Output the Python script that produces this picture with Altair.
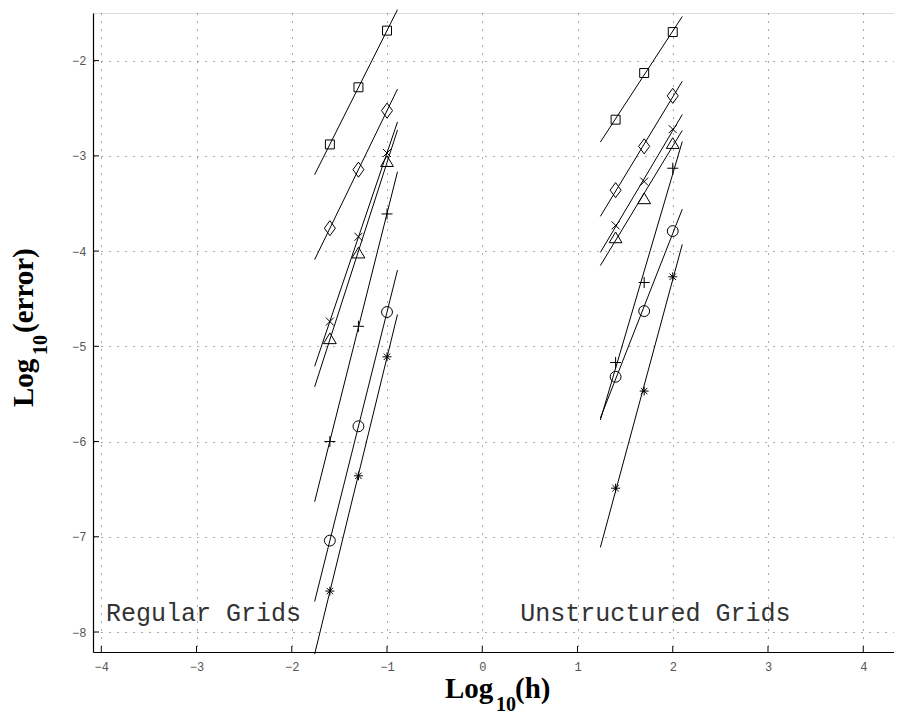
import altair as alt
import pandas as pd

# ---------------- data ----------------
series = ["square", "diamond", "x", "triangle", "plus", "circle", "asterisk"]

x_regular = [-1.6, -1.3, -1.0]
x_unstructured = [1.4, 1.7, 2.0]

reg_square = [-2.88, -2.28, -1.685]
reg_diamond = [-3.76, -3.145, -2.525]
reg_x = [-4.74, -3.85, -2.97]
reg_triangle = [-4.92, -4.02, -3.06]
reg_plus = [-6.00, -4.79, -3.61]
reg_circle = [-7.04, -5.84, -4.64]
reg_asterisk = [-7.57, -6.36, -5.11]

uns_square = [-2.62, -2.13, -1.70]
uns_diamond = [-3.36, -2.90, -2.37]
uns_x = [-3.73, -3.27, -2.72]
uns_triangle = [-3.86, -3.45, -2.87]
uns_plus = [-5.17, -4.33, -3.13]
uns_circle = [-5.32, -4.63, -3.79]
uns_asterisk = [-6.49, -5.47, -4.27]

x_ticks = [-4, -3, -2, -1, 0, 1, 2, 3, 4]
y_ticks = [-8, -7, -6, -5, -4, -3, -2]

annotations = ["Regular Grids", "Unstructured Grids"]
annot_x = [-3.95, 0.40]
annot_y = [-7.885, -7.885]

# marker outlines (unit box, one common symbol size)
marker_paths = [
    "M-0.56,-0.56L0.56,-0.56L0.56,0.56L-0.56,0.56Z",
    "M0,-0.94L0.69,0L0,0.94L-0.69,0Z",
    "M-0.5,-0.5L0.5,0.5M-0.5,0.5L0.5,-0.5",
    "M0,-0.72L0.8,0.62L-0.8,0.62Z",
    "M-0.69,0L0.69,0M0,-0.69L0,0.69",
    "M0.68,0A0.68,0.68,0,1,1,-0.68,0A0.68,0.68,0,1,1,0.68,0Z",
    "M-0.56,0L0.56,0M0,-0.56L0,0.56M-0.4,-0.4L0.4,0.4M-0.4,0.4L0.4,-0.4",
]

reg_values = [reg_square, reg_diamond, reg_x, reg_triangle, reg_plus, reg_circle, reg_asterisk]
uns_values = [uns_square, uns_diamond, uns_x, uns_triangle, uns_plus, uns_circle, uns_asterisk]

rows = []
for s, vals in zip(series, reg_values):
    for xv, yv in zip(x_regular, vals):
        rows.append({"series": s, "grid": "regular", "x": xv, "y": yv})
for s, vals in zip(series, uns_values):
    for xv, yv in zip(x_unstructured, vals):
        rows.append({"series": s, "grid": "unstructured", "x": xv, "y": yv})
df = pd.DataFrame(rows)

W, H = 801, 639
X_DOMAIN = [-4.087, 4.323]
Y_DOMAIN = [-8.21, -1.5]

xs = alt.Scale(domain=X_DOMAIN, nice=False, zero=False)
ys = alt.Scale(domain=Y_DOMAIN, nice=False, zero=False)

axis_common = dict(
    grid=True, gridDash=[1, 7], gridColor="#555555", gridWidth=1, gridOpacity=1,
    ticks=False, domainColor="black", domainWidth=1.2,
    labelFont="Liberation Mono", labelFontSize=12, labelColor="#555555",
    title=None,
)
x_axis = alt.Axis(values=x_ticks, labelPadding=9, format="d", **axis_common)
y_axis = alt.Axis(values=y_ticks, labelPadding=7, format="d", **axis_common)

base = alt.Chart(df)

# axes/grid host (invisible points)
axes_layer = base.mark_point(opacity=0).encode(
    x=alt.X("x:Q", scale=xs, axis=x_axis),
    y=alt.Y("y:Q", scale=ys, axis=y_axis),
)

fit_reg = base.transform_filter(alt.datum.grid == "regular").transform_regression(
    "x", "y", groupby=["series"], extent=[-1.76, -0.89]
).mark_line(color="black", strokeWidth=1).encode(
    x=alt.X("x:Q", scale=xs), y=alt.Y("y:Q", scale=ys), detail="series:N"
)

fit_uns = base.transform_filter(alt.datum.grid == "unstructured").transform_regression(
    "x", "y", groupby=["series"], extent=[1.24, 2.10]
).mark_line(color="black", strokeWidth=1).encode(
    x=alt.X("x:Q", scale=xs), y=alt.Y("y:Q", scale=ys), detail="series:N"
)

points = base.mark_point(filled=False, stroke="black", strokeWidth=1, size=256, opacity=1).encode(
    x=alt.X("x:Q", scale=xs),
    y=alt.Y("y:Q", scale=ys),
    shape=alt.Shape("series:N", scale=alt.Scale(domain=series, range=marker_paths), legend=None),
)

# inward tick marks
xt = alt.Chart(pd.DataFrame({"t": x_ticks})).mark_rule(color="black", strokeWidth=1).encode(
    x=alt.X("t:Q", scale=xs), y=alt.value(H), y2=alt.value(H - 6)
)
yt = alt.Chart(pd.DataFrame({"t": y_ticks})).mark_rule(color="black", strokeWidth=1).encode(
    y=alt.Y("t:Q", scale=ys), x=alt.value(0), x2=alt.value(6)
)

annot = alt.Chart(pd.DataFrame({"label": annotations, "ax": annot_x, "ay": annot_y})).mark_text(
    font="Liberation Mono", fontSize=25, color="#333333", align="left", baseline="alphabetic"
).encode(x=alt.X("ax:Q", scale=xs), y=alt.Y("ay:Q", scale=ys), text="label:N")

one = pd.DataFrame({"d": [0]})
tfont = dict(font="Liberation Serif", fontWeight="bold", color="black", baseline="alphabetic", align="left")

xt1 = alt.Chart(one).mark_text(text="Log", fontSize=29, **tfont).encode(x=alt.value(352), y=alt.value(685))
xt2 = alt.Chart(one).mark_text(text="10", fontSize=20, **tfont).encode(x=alt.value(403), y=alt.value(698))
xt3 = alt.Chart(one).mark_text(text="(h)", fontSize=29, **tfont).encode(x=alt.value(422), y=alt.value(685))

yt1 = alt.Chart(one).mark_text(text="Log", fontSize=29, angle=270, **tfont).encode(x=alt.value(-60), y=alt.value(394))
yt2 = alt.Chart(one).mark_text(text="10", fontSize=20, angle=270, **tfont).encode(x=alt.value(-46), y=alt.value(342))
yt3 = alt.Chart(one).mark_text(text="(error)", fontSize=29, angle=270, **tfont).encode(x=alt.value(-60), y=alt.value(320))

chart = alt.layer(
    axes_layer, fit_reg, fit_uns, points, xt, yt, annot, xt1, xt2, xt3, yt1, yt2, yt3
).properties(
    width=W, height=H,
    autosize=alt.AutoSizeParams(type="none"),
    padding={"left": 85, "top": 5, "right": 0, "bottom": 64},
).configure_view(stroke=None).configure(background="white")

chart.save("out.html", embed_options={"renderer": "svg", "actions": False})
